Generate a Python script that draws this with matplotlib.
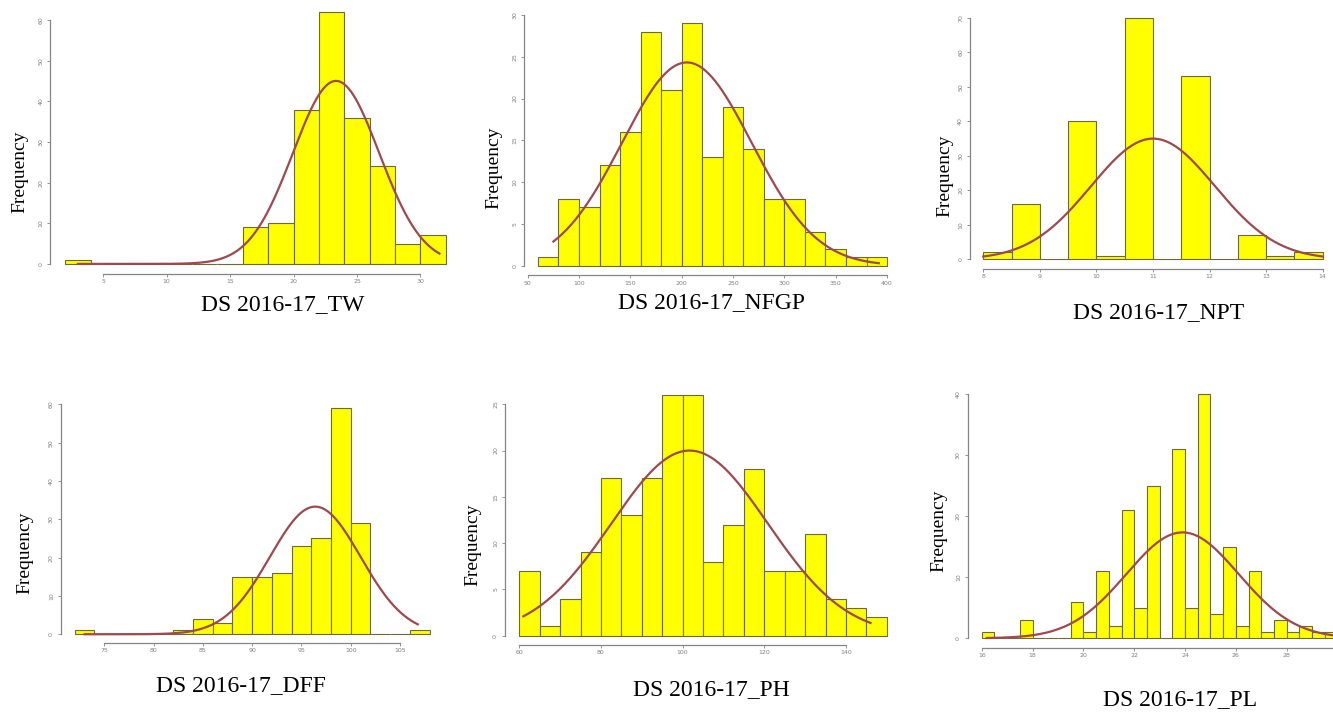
import numpy as np
import matplotlib.pyplot as plt

# =========================
# Data (bin start, bin width, counts)
# =========================

tw_start, tw_width = 2, 2
tw_counts = [1, 0, 0, 0, 0, 0, 0, 9, 10, 38, 62, 36, 24, 5, 7]

nfgp_start, nfgp_width = 60, 20
nfgp_counts = [1, 8, 7, 12, 16, 28, 21, 29, 13, 19, 14, 8, 8, 4, 2, 1, 1]

npt_start, npt_width = 8, 0.5
npt_counts = [2, 16, 0, 40, 1, 70, 0, 53, 0, 7, 1, 2]

dff_start, dff_width = 72, 2
dff_counts = [1, 0, 0, 0, 0, 1, 4, 3, 15, 15, 16, 23, 25, 59, 29, 0, 0, 1]

ph_start, ph_width = 60, 5
ph_counts = [7, 1, 4, 9, 17, 13, 17, 26, 26, 8, 12, 18, 7, 7, 11, 4, 3, 2]

pl_start, pl_width = 16, 0.5
pl_counts = [1, 0, 0, 3, 0, 0, 0, 6, 1, 11, 2, 21, 5, 25, 0, 31, 5, 40, 4,
             15, 2, 11, 1, 3, 1, 2, 1, 1]

# fitted normal curves (mean, sd, drawn range)
tw_fit = (23.35, 3.4, 3.0, 31.5)
nfgp_fit = (205, 63, 75, 392)
npt_fit = (11.0, 1.095, 8.0, 14.0)
dff_fit = (96.4, 4.6, 73.0, 106.8)
ph_fit = (101.7, 19.15, 61, 146)
pl_fit = (23.9, 2.21, 16.2, 30.0)

tw_xticks, tw_yticks = [5, 10, 15, 20, 25, 30], [0, 10, 20, 30, 40, 50, 60]
nfgp_xticks, nfgp_yticks = [50, 100, 150, 200, 250, 300, 350, 400], [0, 5, 10, 15, 20, 25, 30]
npt_xticks, npt_yticks = [8, 9, 10, 11, 12, 13, 14], [0, 10, 20, 30, 40, 50, 60, 70]
dff_xticks, dff_yticks = [75, 80, 85, 90, 95, 100, 105], [0, 10, 20, 30, 40, 50, 60]
ph_xticks, ph_yticks = [60, 80, 100, 120, 140], [0, 5, 10, 15, 20, 25]
pl_xticks, pl_yticks = [16, 18, 20, 22, 24, 26, 28, 30], [0, 10, 20, 30, 40]

titles = ["DS 2016-17_TW", "DS 2016-17_NFGP", "DS 2016-17_NPT",
          "DS 2016-17_DFF", "DS 2016-17_PH", "DS 2016-17_PL"]

# =========================
# Layout (pixels): axes box, "Frequency" centre, title centre
# =========================

W, H = 1333, 712
panels = [
    (tw_start, tw_width, tw_counts, tw_fit, tw_xticks, tw_yticks,
     (50, 461, 2, 274), (20, 172), (283, 305)),
    (nfgp_start, nfgp_width, nfgp_counts, nfgp_fit, nfgp_xticks, nfgp_yticks,
     (524, 901, 13.6, 275.4), (494, 168), (712, 303)),
    (npt_start, npt_width, npt_counts, npt_fit, npt_xticks, npt_yticks,
     (969.7, 1336.3, 8.1, 269), (945, 176), (1159, 313)),
    (dff_start, dff_width, dff_counts, dff_fit, dff_xticks, dff_yticks,
     (60.5, 443.8, 399.1, 643.3), (25, 553), (241, 686)),
    (ph_start, ph_width, ph_counts, ph_fit, ph_xticks, ph_yticks,
     (504.6, 901.5, 385.4, 645.3), (473, 545), (711, 690)),
    (pl_start, pl_width, pl_counts, pl_fit, pl_xticks, pl_yticks,
     (967.5, 1351.8, 384.2, 648), (939, 531), (1180, 700)),
]

fig = plt.figure(figsize=(W / 100, H / 100), dpi=100)
serif = "Liberation Serif"
axis_col = "#858585"

for (start, width, counts, fit, xt, yt, box, flab, tlab), title in zip(panels, titles):
    l, r, t, b = box
    ax = fig.add_axes([l / W, 1 - b / H, (r - l) / W, (b - t) / H])
    counts = np.array(counts)
    edges = start + width * np.arange(len(counts))
    ax.bar(edges, counts, width=width, align="edge", color="#ffff00",
           edgecolor="#6a6a3a", linewidth=0.8)

    mu, sd, lo, hi = fit
    xs = np.linspace(lo, hi, 300)
    ys = counts.sum() * width * np.exp(-0.5 * ((xs - mu) / sd) ** 2) / (sd * np.sqrt(2 * np.pi))
    ax.plot(xs, ys, color="#9c4a4f", linewidth=1.6)

    span = width * len(counts)
    ax.set_xlim(start - 0.04 * span, start + span + 0.04 * span)
    ax.set_ylim(-0.04 * counts.max(), 1.04 * counts.max())
    ax.set_xticks(xt)
    # a tick label that would fall past the figure edge stays blank
    xlabels = [str(v) if l + (v - ax.get_xlim()[0]) / (ax.get_xlim()[1] - ax.get_xlim()[0]) * (r - l) < W - 8
               else "" for v in xt]
    ax.set_xticklabels(xlabels)
    ax.set_yticks(yt)
    ax.set_yticklabels([str(v) for v in yt], rotation=90, va="center")
    for s in ["top", "right"]:
        ax.spines[s].set_visible(False)
    ax.spines["left"].set_bounds(yt[0], yt[-1])
    ax.spines["bottom"].set_bounds(xt[0], xt[-1])
    for s in ["left", "bottom"]:
        ax.spines[s].set_color(axis_col)
        ax.spines[s].set_linewidth(0.9)
    ax.tick_params(direction="out", length=2.2, width=0.6, color=axis_col,
                   labelsize=4.5, labelcolor="#808080")
    ax.tick_params(axis="x", pad=1.5)
    ax.tick_params(axis="y", pad=2.5)
    ax.patch.set_alpha(0)

    fig.text(flab[0] / W, 1 - flab[1] / H, "Frequency", rotation=90,
             ha="center", va="center", fontsize=14, family=serif)
    fig.text(tlab[0] / W, 1 - tlab[1] / H, title, ha="center", va="center",
             fontsize=17, family=serif)

plt.savefig("out.png", dpi=100)
plt.close()
